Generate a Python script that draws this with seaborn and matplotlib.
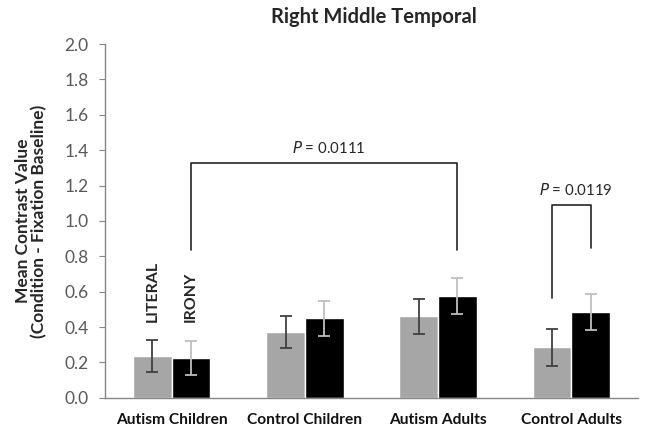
import matplotlib
matplotlib.use('Agg')
import matplotlib.pyplot as plt
import pandas as pd
import seaborn as sns

# values
groups = ['Autism Children', 'Control Children', 'Autism Adults', 'Control Adults']
literal = [0.235, 0.37, 0.46, 0.285]
irony = [0.225, 0.45, 0.575, 0.485]
literal_err = [0.09, 0.09, 0.10, 0.105]
irony_err = [0.095, 0.10, 0.10, 0.10]
conditions = ['LITERAL', 'IRONY']
yticks = [0.0, 0.2, 0.4, 0.6, 0.8, 1.0, 1.2, 1.4, 1.6, 1.8, 2.0]

df = pd.DataFrame({
    'Group': groups * 2,
    'Condition': ['LITERAL'] * 4 + ['IRONY'] * 4,
    'Value': literal + irony,
})

sns.set_style('white')
plt.rcParams['font.family'] = ['Lato', 'DejaVu Sans']

fig = plt.figure(figsize=(6.45, 4.32), dpi=100)
ax = fig.add_axes([0.163, 0.079, 0.826, 0.819])

sns.barplot(data=df, x='Group', y='Value', hue='Condition', order=groups,
            hue_order=conditions, palette={'LITERAL': '#a6a6a6', 'IRONY': '#000000'},
            width=0.58, errorbar=None, legend=False, saturation=1, ax=ax)

# error bars at the bar centres
half = 0.58 / 4
xs = list(range(len(groups)))
ax.errorbar([x - half for x in xs], literal, yerr=literal_err, fmt='none',
            ecolor='#404040', elinewidth=1.3, capsize=4, capthick=1.3)
ax.errorbar([x + half for x in xs], irony, yerr=irony_err, fmt='none',
            ecolor='#bfbfbf', elinewidth=1.3, capsize=4, capthick=1.3)

ax.set_ylim(0, 2.0)
ax.set_xlim(-0.5, 3.5)
ax.set_yticks(yticks)
ax.set_yticklabels([f'{t:.1f}' for t in yticks], fontsize=12.5, color='#595959')
ax.set_xticks(xs)
ax.set_xticklabels(groups, fontsize=11.2, fontweight='bold', color='#111111')
ax.tick_params(axis='y', length=4, color='#868686', left=True, pad=8)
ax.tick_params(axis='x', length=0, pad=11)
ax.set_xlabel('')
ax.set_ylabel('Mean Contrast Value\n(Condition - Fixation Baseline)',
              fontsize=12.5, fontweight='bold', labelpad=12, linespacing=1.0)
sns.despine(ax=ax)
for side in ['left', 'bottom']:
    ax.spines[side].set_color('#868686')
    ax.spines[side].set_linewidth(1)

ax.set_title('Right Middle Temporal', fontsize=14.5, fontweight='bold', pad=15,
             x=0.505)

# condition labels above first group
ax.text(0 - half, 0.43, 'LITERAL', rotation=90, ha='center', va='bottom',
        fontsize=11.5, fontweight='bold')
ax.text(0 + half, 0.43, 'IRONY', rotation=90, ha='center', va='bottom',
        fontsize=11.5, fontweight='bold')

# significance brackets
ax.plot([0 + half, 0 + half, 2 + half, 2 + half], [0.836, 1.33, 1.33, 0.836],
        color='#262626', lw=1.2)
ax.text(1 + half + 0.03, 1.37, '$\\it{P}$ = 0.0111', ha='center', va='bottom',
        fontsize=10.8)
ax.plot([3 - half, 3 - half, 3 + half, 3 + half], [0.565, 1.09, 1.09, 0.85],
        color='#262626', lw=1.2)
ax.text(3.03, 1.13, '$\\it{P}$ = 0.0119', ha='center', va='bottom', fontsize=10.8)

fig.savefig('out.png', dpi=100)
